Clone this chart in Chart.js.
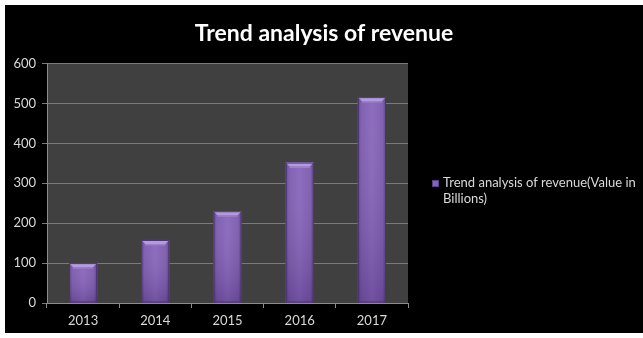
<!DOCTYPE html>
<html>
<head>
<meta charset="utf-8">
<script src="https://cdn.jsdelivr.net/npm/chart.js@4.4.1/dist/chart.umd.min.js"></script>
<style>
  html, body { margin: 0; padding: 0; background: #ffffff; }
  #wrap { position: absolute; left: 5px; top: 5px; width: 638px; height: 328px; background: #000000; }
  canvas { display: block; }
</style>
</head>
<body>
<div id="wrap"><canvas id="c" width="638" height="328"></canvas></div>
<script>
// Revenue per year, in billions
const years = ['2013', '2014', '2015', '2016', '2017'];
const revenue = [100, 158, 230, 352, 516];
const seriesLabel = 'Trend analysis of revenue(Value in Billions)';
const legendLines = ['Trend analysis of revenue(Value in', 'Billions)'];
const chartTitle = 'Trend analysis of revenue';

const FONT = 'Lato, "Open Sans", "DejaVu Sans", sans-serif';

// Dark grey plot area behind the bars
const plotBackground = {
  id: 'plotBackground',
  beforeDraw(chart) {
    const { ctx, chartArea: a } = chart;
    ctx.save();
    ctx.fillStyle = '#404040';
    ctx.fillRect(a.left, a.top, a.right - a.left, a.bottom - a.top);
    ctx.restore();
  }
};

// Shaded purple bars with a light bevel along the top edge
const barShading = {
  id: 'barShading',
  afterDatasetsDraw(chart) {
    const { ctx } = chart;
    const meta = chart.getDatasetMeta(0);
    ctx.save();
    meta.data.forEach(bar => {
      const w = bar.width;
      const left = bar.x - w / 2;
      const top = bar.y;
      const bottom = bar.base;
      // horizontal shading
      const g = ctx.createLinearGradient(left, 0, left + w, 0);
      g.addColorStop(0, '#5a3f86');
      g.addColorStop(0.12, '#7a58ad');
      g.addColorStop(0.5, '#8764bb');
      g.addColorStop(0.88, '#7a58ad');
      g.addColorStop(1, '#553c80');
      ctx.fillStyle = g;
      ctx.fillRect(left, top, w, bottom - top);
      // darker towards the base
      const v = ctx.createLinearGradient(0, top, 0, bottom);
      v.addColorStop(0, 'rgba(255,255,255,0.05)');
      v.addColorStop(1, 'rgba(30,10,60,0.22)');
      ctx.fillStyle = v;
      ctx.fillRect(left, top, w, bottom - top);
      // top bevel
      ctx.fillStyle = '#b49ade';
      ctx.beginPath();
      ctx.moveTo(left, top);
      ctx.lineTo(left + w, top);
      ctx.lineTo(left + w - 4, top + 4);
      ctx.lineTo(left + 4, top + 4);
      ctx.closePath();
      ctx.fill();
      ctx.fillStyle = '#9d80cc';
      ctx.fillRect(left + 4, top + 4, w - 8, 1.5);
      // outline
      ctx.strokeStyle = '#4a3470';
      ctx.lineWidth = 1;
      ctx.strokeRect(left + 0.5, top + 0.5, w - 1, bottom - top - 1);
    });
    ctx.restore();
  }
};

// Legend on the right, wrapped over two lines
const sideLegend = {
  id: 'sideLegend',
  afterDraw(chart) {
    const { ctx } = chart;
    const x = 427, y = 178;
    ctx.save();
    ctx.fillStyle = '#8764bb';
    ctx.fillRect(x, y - 3, 7, 7);
    ctx.strokeStyle = '#5a3f86';
    ctx.strokeRect(x + 0.5, y - 2.5, 6, 6);
    ctx.fillStyle = '#d9d9d9';
    ctx.font = '13px ' + FONT;
    ctx.textBaseline = 'middle';
    legendLines.forEach((line, i) => ctx.fillText(line, x + 11, y + i * 16));
    ctx.restore();
  }
};

new Chart(document.getElementById('c'), {
  type: 'bar',
  data: {
    labels: years,
    datasets: [{
      label: seriesLabel,
      data: revenue,
      backgroundColor: '#8764bb',
      borderWidth: 0,
      categoryPercentage: 1,
      barPercentage: 0.39
    }]
  },
  options: {
    responsive: false,
    animation: false,
    devicePixelRatio: 1,
    layout: { padding: 0 },
    plugins: {
      legend: { display: false },
      tooltip: { enabled: false },
      title: {
        display: true,
        text: chartTitle,
        color: '#ffffff',
        font: { family: FONT, size: 23, weight: 'bold' },
        padding: { top: 15, bottom: 16 }
      }
    },
    scales: {
      x: {
        grid: { display: true, drawOnChartArea: false, drawTicks: true, tickLength: 5, color: '#8c8c8c', offset: true },
        border: { display: true, color: '#8c8c8c' },
        ticks: { color: '#d9d9d9', font: { family: FONT, size: 13 }, padding: 5 },
        afterFit(scale) { scale.height = 30; }
      },
      y: {
        min: 0,
        max: 600,
        grid: { color: '#7a7a7a', tickLength: 5, drawTicks: true },
        border: { display: true, color: '#8c8c8c' },
        ticks: { stepSize: 100, color: '#d9d9d9', font: { family: FONT, size: 13 }, padding: 6 },
        afterFit(scale) { scale.width = 42; }
      },
      // empty right-hand column that holds the legend
      legendSpace: {
        type: 'linear',
        position: 'right',
        display: true,
        grid: { display: false, drawTicks: false },
        border: { display: false },
        ticks: { display: false },
        afterFit(scale) { scale.width = 235; }
      }
    }
  },
  plugins: [plotBackground, barShading, sideLegend]
});
</script>
</body>
</html>
